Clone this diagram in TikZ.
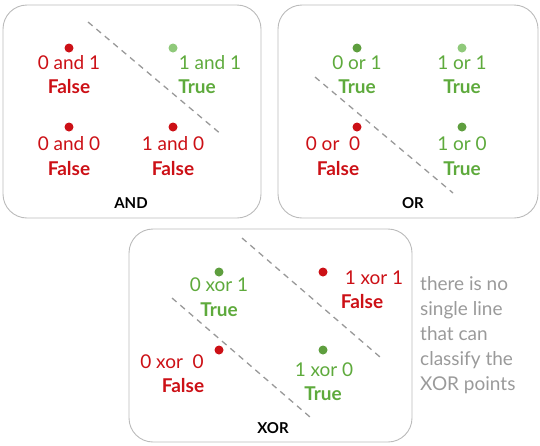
\documentclass[tikz,border=0pt]{standalone}
\usepackage{fontspec}
\setmainfont{Lato}
\usetikzlibrary{calc}

\definecolor{falsered}{HTML}{CC1016}
\definecolor{truegreen}{HTML}{5EAA3C}
\definecolor{dotgreen}{HTML}{5E9E3E}
\definecolor{lightgreen}{HTML}{8FC97A}
\definecolor{boxgray}{HTML}{BBBBBB}
\definecolor{notegray}{HTML}{9A9A9A}

\begin{document}
\begin{tikzpicture}[x=1pt, y=-1pt]
    % Styles
    \tikzset{
        panel/.style={draw=boxgray, line width=0.9pt, rounded corners=24pt},
        dot/.style={circle, fill=#1, inner sep=0pt, minimum size=9pt},
        lbl/.style={text=#1, inner sep=0pt, font=\fontsize{19}{22}\selectfont},
        res/.style={text=#1, inner sep=0pt, font=\fontsize{19}{22}\selectfont\bfseries},
        title/.style={inner sep=0pt, font=\fontsize{15}{18}\selectfont\bfseries},
        split/.style={draw=gray!80, dashed, line width=1.3pt, dash pattern=on 6pt off 5pt}
    }
    \useasboundingbox (0,0) rectangle (540,445);

    % Panels
    \draw[panel] (3,5) rectangle (261,218);
    \draw[panel] (278,5) rectangle (538,218);
    \draw[panel] (129,229) rectangle (412,442);

    % AND
    \node[dot=falsered] (and01) at (69,48) {};
    \node[dot=lightgreen] (and11) at (173,48) {};
    \node[dot=falsered] (and00) at (69,127) {};
    \node[dot=falsered] (and10) at (173,127) {};
    \node[lbl=falsered] (and01t) at (69,63) {0 and 1};
    \node[res=falsered] at (69,87) {False};
    \node[lbl=truegreen] (and11t) at (210,63) {1 and 1};
    \node[res=truegreen] at (197,87) {True};
    \node[lbl=falsered] at (69,144) {0 and 0};
    \node[res=falsered] at (69,169) {False};
    \node[lbl=falsered] at (173,144) {1 and 0};
    \node[res=falsered] at (173,169) {False};
    \node[title] at (131,203) {AND};
    \coordinate (andA) at (88,22);
    \coordinate (andB) at (222,135);
    \draw[split] (andA) -- (andB);

    % OR
    \node[dot=dotgreen] (or01) at (357,48) {};
    \node[dot=lightgreen] (or11) at (462,48) {};
    \node[dot=falsered] (or00) at (357,127) {};
    \node[dot=dotgreen] (or10) at (462,127) {};
    \node[lbl=truegreen] at (357,63) {0 or 1};
    \node[res=truegreen] at (357,87) {True};
    \node[lbl=truegreen] at (462,63) {1 or 1};
    \node[res=truegreen] at (462,87) {True};
    \node[lbl=falsered] at (333,144) {0 or\ \ 0};
    \node[res=falsered] at (338,169) {False};
    \node[lbl=truegreen] at (462,144) {1 or 0};
    \node[res=truegreen] at (462,169) {True};
    \node[title] at (413,203) {OR};
    \coordinate (orA) at (315,77);
    \coordinate (orB) at (453,193);
    \draw[split] (orA) -- (orB);

    % XOR
    \node[dot=dotgreen] (xor01) at (219,272) {};
    \node[dot=falsered] (xor11) at (323,272) {};
    \node[dot=falsered] (xor00) at (219,350) {};
    \node[dot=dotgreen] (xor10) at (323,350) {};
    \node[lbl=truegreen] at (219,285) {0 xor 1};
    \node[res=truegreen] at (219,310) {True};
    \node[lbl=falsered] at (374,278) {1 xor 1};
    \node[res=falsered] at (362,302) {False};
    \node[lbl=falsered] at (172,362) {0 xor\ \ 0};
    \node[res=falsered] at (183,386) {False};
    \node[lbl=truegreen] at (324,370) {1 xor 0};
    \node[res=truegreen] at (323,394) {True};
    \node[title] at (273,428) {XOR};
    \coordinate (xorA) at (242,238);
    \coordinate (xorB) at (380,357);
    \coordinate (xorC) at (172,298);
    \coordinate (xorD) at (310,417);
    \draw[split] (xorA) -- (xorB);
    \draw[split] (xorC) -- (xorD);

    % Note
    \node[anchor=north west, text=notegray, inner sep=0pt, align=left,
          font=\fontsize{19}{25}\selectfont] (note) at (420,276)
        {there is no\\single line\\that can\\classify the\\XOR points};
\end{tikzpicture}
\end{document}
